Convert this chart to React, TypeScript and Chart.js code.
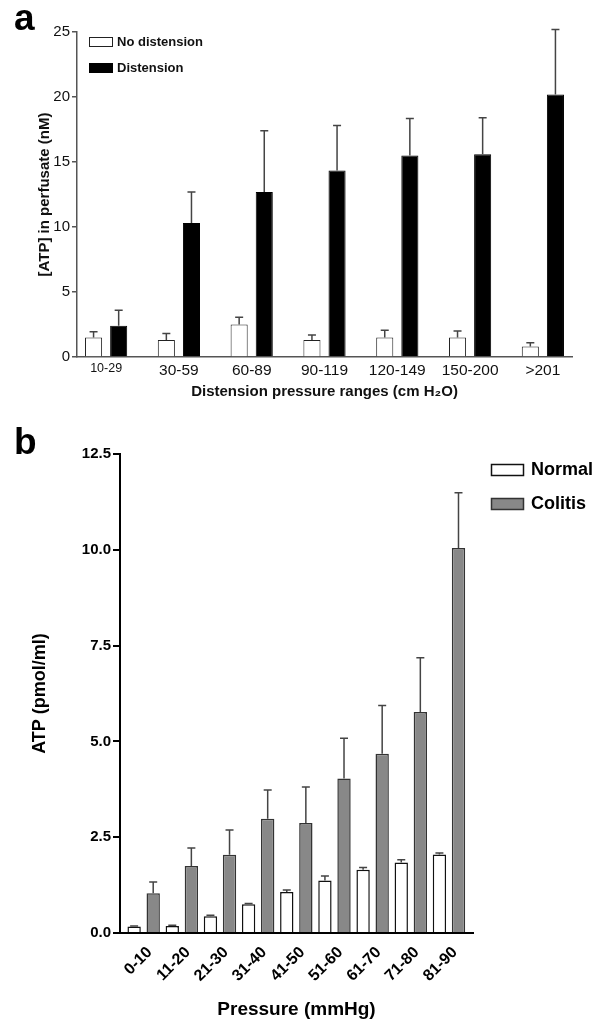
import React, { useEffect, useRef } from "react";
import { Chart, registerables } from "chart.js";

Chart.register(...registerables);

const FONT = "'Liberation Sans', Arial, Helvetica, sans-serif";

// ---------- Panel a data ----------
const rangesA = ["10-29", "30-59", "60-89", "90-119", "120-149", "150-200", ">201"];
const noDistension = [1.5, 1.3, 2.5, 1.3, 1.5, 1.5, 0.8];
const noDistensionErr = [0.45, 0.5, 0.55, 0.4, 0.55, 0.5, 0.3];
const distension = [2.4, 10.3, 12.7, 14.35, 15.5, 15.6, 20.2];
const distensionErr = [1.2, 2.4, 4.7, 3.45, 2.85, 2.8, 5.0];
const yTicksA = [0, 5, 10, 15, 20, 25];

// ---------- Panel b data ----------
const rangesB = ["0-10", "11-20", "21-30", "31-40", "41-50", "51-60", "61-70", "71-80", "81-90"];
const normal = [0.17, 0.18, 0.44, 0.75, 1.07, 1.37, 1.65, 1.84, 2.05];
const normalErr = [0.01, 0.02, 0.02, 0.02, 0.05, 0.12, 0.06, 0.07, 0.04];
const colitis = [1.04, 1.75, 2.04, 2.98, 2.87, 4.03, 4.68, 5.77, 10.05];
const colitisErr = [0.29, 0.47, 0.65, 0.75, 0.94, 1.05, 1.26, 1.41, 1.44];
const yTicksB = [0, 2.5, 5, 7.5, 10, 12.5];

const toPoints = (vals: number[]) => vals.map((v, i) => ({ x: i, y: v }));

const errorBars = {
  id: "errorBars",
  afterDatasetsDraw(chart: any, _args: any, opts: any) {
    const ctx = chart.ctx;
    const yScale = chart.scales.y;
    chart.data.datasets.forEach((ds: any, di: number) => {
      const errs: number[] | undefined = ds.errors;
      if (!errs) return;
      const meta = chart.getDatasetMeta(di);
      meta.data.forEach((bar: any, i: number) => {
        const v = ds.data[i].y;
        const yTop = yScale.getPixelForValue(v);
        const yErr = yScale.getPixelForValue(v + errs[i]);
        ctx.save();
        ctx.strokeStyle = opts.color;
        ctx.lineWidth = opts.width;
        ctx.beginPath();
        ctx.moveTo(bar.x, yTop);
        ctx.lineTo(bar.x, yErr);
        ctx.moveTo(bar.x - opts.cap, yErr);
        ctx.lineTo(bar.x + opts.cap, yErr);
        ctx.stroke();
        ctx.restore();
      });
    });
  },
};

const boxLegend = {
  id: "boxLegend",
  afterDraw(chart: any, _args: any, opts: any) {
    if (!opts || !opts.show) return;
    const ctx = chart.ctx;
    chart.data.datasets.forEach((ds: any, i: number) => {
      const y = opts.y + i * opts.rowGap;
      ctx.save();
      ctx.fillStyle = ds.backgroundColor;
      ctx.fillRect(opts.x, y, opts.boxW, opts.boxH);
      ctx.lineWidth = opts.lineWidth;
      ctx.strokeStyle = ds.borderColor;
      ctx.strokeRect(opts.x, y, opts.boxW, opts.boxH);
      ctx.fillStyle = opts.color;
      ctx.font = opts.font;
      ctx.textBaseline = "middle";
      ctx.textAlign = "left";
      ctx.fillText(ds.label, opts.textX, y + opts.boxH / 2 + 0.5);
      ctx.restore();
    });
  },
};

function configA(): any {
  return {
    type: "bar",
    data: {
      datasets: [
        {
          label: "No distension",
          data: toPoints(noDistension),
          errors: noDistensionErr,
          backgroundColor: "#ffffff",
          borderColor: "#222222",
          borderWidth: 1,
          categoryPercentage: 0.69,
          barPercentage: 0.68,
        },
        {
          label: "Distension",
          data: toPoints(distension),
          errors: distensionErr,
          backgroundColor: "#000000",
          borderColor: "#000000",
          borderWidth: 1,
          categoryPercentage: 0.69,
          barPercentage: 0.68,
        },
      ],
    },
    options: {
      responsive: false,
      animation: false,
      layout: { padding: { left: 0, right: 28, top: 32, bottom: 0 } },
      plugins: {
        legend: { display: false },
        tooltip: { enabled: false },
        errorBars: { color: "#444444", width: 1.5, cap: 4 },
        boxLegend: {
          show: true,
          x: 89.5,
          y: 37.5,
          rowGap: 26,
          boxW: 23,
          boxH: 9,
          lineWidth: 1,
          textX: 117,
          color: "#111111",
          font: `bold 13px ${FONT}`,
        },
      },
      scales: {
        x: {
          type: "linear",
          offset: false,
          min: -0.4,
          max: 6.4,
          afterBuildTicks: (ax: any) => {
            ax.ticks = rangesA.map((_, i) => ({ value: i }));
          },
          afterFit: (ax: any) => {
            ax.height = 53;
          },
          grid: { display: false, drawTicks: false },
          border: { display: true, color: "#555555", width: 1.5 },
          ticks: {
            autoSkip: false,
            maxRotation: 0,
            minRotation: 0,
            padding: 4,
            color: "#111111",
            font: (c: any) => ({ family: FONT, size: c.index === 0 ? 12.5 : 15.5 }),
            callback: (v: any) => rangesA[v],
          },
          title: {
            display: true,
            text: "Distension pressure ranges (cm H\u2082O)",
            color: "#111111",
            font: { family: FONT, size: 15, weight: "bold" },
            padding: { top: 0, bottom: 9 },
          },
        },
        y: {
          min: 0,
          max: 25,
          afterBuildTicks: (ax: any) => {
            ax.ticks = yTicksA.map((v) => ({ value: v }));
          },
          afterFit: (ax: any) => {
            ax.width = 77;
          },
          grid: { drawOnChartArea: false, drawTicks: true, tickLength: 5, color: "#555555", lineWidth: 1.5 },
          border: { display: true, color: "#555555", width: 1.5 },
          ticks: { padding: 2, color: "#111111", font: { family: FONT, size: 15 } },
          title: {
            display: true,
            text: "[ATP] in perfusate (nM)",
            color: "#111111",
            font: { family: FONT, size: 15, weight: "bold" },
            padding: { top: 36, bottom: 0 },
          },
        },
      },
    },
    plugins: [errorBars, boxLegend],
  };
}

function configB(): any {
  return {
    type: "bar",
    data: {
      datasets: [
        {
          label: "Normal",
          data: toPoints(normal),
          errors: normalErr,
          backgroundColor: "#ffffff",
          borderColor: "#111111",
          borderWidth: 1.5,
          categoryPercentage: 1.0,
          barPercentage: 0.7,
        },
        {
          label: "Colitis",
          data: toPoints(colitis),
          errors: colitisErr,
          backgroundColor: "#888888",
          borderColor: "#333333",
          borderWidth: 1.5,
          categoryPercentage: 1.0,
          barPercentage: 0.7,
        },
      ],
    },
    options: {
      responsive: false,
      animation: false,
      layout: { padding: { left: 0, right: 127, top: 34, bottom: 0 } },
      plugins: {
        legend: { display: false },
        tooltip: { enabled: false },
        errorBars: { color: "#444444", width: 1.5, cap: 4 },
        boxLegend: {
          show: true,
          x: 491.5,
          y: 44.5,
          rowGap: 34,
          boxW: 32,
          boxH: 11,
          lineWidth: 1.5,
          textX: 531,
          color: "#000000",
          font: `bold 18px ${FONT}`,
        },
      },
      scales: {
        x: {
          type: "linear",
          offset: false,
          min: -0.62,
          max: 8.63,
          afterBuildTicks: (ax: any) => {
            ax.ticks = rangesB.map((_, i) => ({ value: i }));
          },
          afterFit: (ax: any) => {
            ax.height = 95;
          },
          grid: { display: false, drawTicks: false },
          border: { display: true, color: "#000000", width: 2 },
          ticks: {
            autoSkip: false,
            maxRotation: 45,
            minRotation: 45,
            padding: 10,
            labelOffset: 6,
            color: "#000000",
            font: { family: FONT, size: 16, weight: "bold" },
            callback: (v: any) => rangesB[v],
          },
          title: {
            display: true,
            text: "Pressure (mmHg)",
            color: "#000000",
            font: { family: FONT, size: 19, weight: "bold" },
            padding: { top: 0, bottom: 7 },
          },
        },
        y: {
          min: 0,
          max: 12.5,
          afterBuildTicks: (ax: any) => {
            ax.ticks = yTicksB.map((v) => ({ value: v }));
          },
          afterFit: (ax: any) => {
            ax.width = 120;
          },
          grid: { drawOnChartArea: false, drawTicks: true, tickLength: 7, color: "#000000", lineWidth: 2 },
          border: { display: true, color: "#000000", width: 2 },
          ticks: {
            padding: 2,
            color: "#000000",
            font: { family: FONT, size: 15, weight: "bold" },
            callback: (v: any) => Number(v).toFixed(1),
          },
          title: {
            display: true,
            text: "ATP (pmol/ml)",
            color: "#000000",
            font: { family: FONT, size: 18, weight: "bold" },
            padding: { top: 29, bottom: 0 },
          },
        },
      },
    },
    plugins: [errorBars, boxLegend],
  };
}

function ChartCanvas({ make, width, height }: { make: () => any; width: number; height: number }) {
  const ref = useRef<HTMLCanvasElement>(null);
  useEffect(() => {
    if (!ref.current) return;
    const chart = new Chart(ref.current, make());
    return () => chart.destroy();
  }, []);
  return <canvas ref={ref} width={width} height={height} style={{ display: "block", width, height }} />;
}

export default function App() {
  const letter: React.CSSProperties = {
    position: "absolute",
    left: 14,
    fontFamily: FONT,
    fontWeight: "bold",
    fontSize: 37,
    lineHeight: "37px",
    color: "#000",
  };
  return (
    <div style={{ position: "absolute", left: 0, top: 0, width: 600, height: 1028, background: "#fff", overflow: "hidden" }}>
      <div style={{ position: "absolute", left: 0, top: 0 }}>
        <ChartCanvas make={configA} width={600} height={410} />
      </div>
      <div style={{ position: "absolute", left: 0, top: 420 }}>
        <ChartCanvas make={configB} width={600} height={608} />
      </div>
      <div style={{ ...letter, top: -1 }}>a</div>
      <div style={{ ...letter, top: 423 }}>b</div>
    </div>
  );
}
